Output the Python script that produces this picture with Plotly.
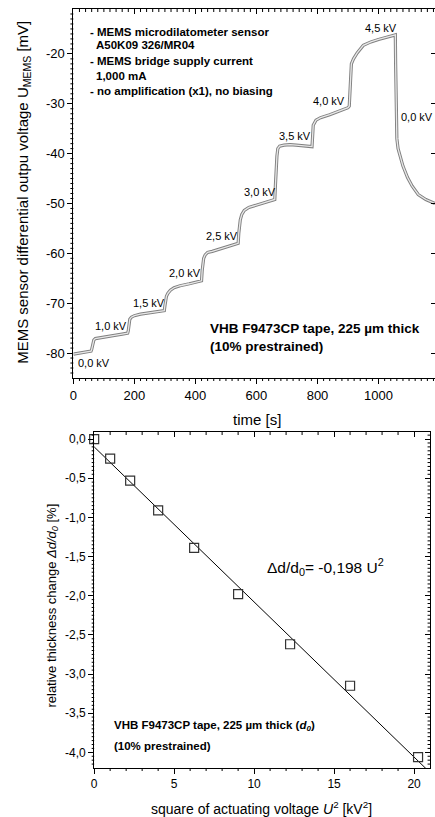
import plotly.graph_objects as go
import numpy as np

W, H = 435, 817
FONT = "Liberation Sans, Arial, sans-serif"


def px(x):
    return x / W


def py(y):
    return 1 - y / H


# ---------------- data: top chart (MEMS signal vs time) ----------------
time_s = [0, 20, 40, 58, 60, 62, 64, 67, 72, 80, 100, 130, 160, 178,
          180, 182, 185, 190, 200, 220, 250, 280, 298,
          300, 302, 305, 310, 318, 330, 350, 380, 410, 420,
          422, 424, 427, 432, 440, 455, 475, 500, 520, 540,
          542, 544, 547, 552, 560, 575, 595, 620, 645, 660,
          662, 664, 667, 670, 676, 690, 710, 730, 750, 770, 782,
          784, 786, 795, 810, 840, 870, 900, 904,
          906, 908, 911, 918, 930, 950, 975, 1000, 1025, 1050, 1055,
          1056, 1057, 1058, 1060, 1064, 1070, 1080, 1095, 1110, 1130, 1155, 1185]
u_mems = [-80.2, -80.0, -79.8, -79.6, -79.3, -78.5, -77.8, -77.4, -77.1, -77.0, -76.8, -76.5, -76.2, -76.0,
          -75.5, -74.0, -73.2, -72.8, -72.5, -72.2, -71.9, -71.7, -71.5,
          -70.5, -69.3, -68.6, -68.0, -67.4, -66.9, -66.5, -66.1, -65.7, -65.5,
          -63.5, -62.0, -61.0, -60.3, -59.8, -59.6, -59.2, -58.7, -58.3, -58.0,
          -56.0, -54.5, -53.3, -52.2, -51.4, -50.8, -50.4, -49.9, -49.5, -49.2,
          -46.5, -43.5, -40.5, -39.0, -38.5, -38.3, -38.2, -38.3, -38.4, -38.5, -38.6,
          -36.5, -34.3, -33.3, -32.8, -32.2, -31.5, -30.8, -30.5,
          -27.5, -24.0, -22.0, -21.0, -19.8, -18.3, -17.6, -17.1, -16.7, -16.3, -16.2,
          -22.0, -28.0, -34.5, -37.0, -39.0, -40.5, -42.5, -44.8, -46.5, -48.2, -49.2, -50.0]

kv_labels = ["0,0 kV", "1,0 kV", "1,5 kV", "2,0 kV", "2,5 kV", "3,0 kV",
             "3,5 kV", "4,0 kV", "4,5 kV", "0,0 kV"]
kv_label_t = [10, 65, 188, 308, 429, 552, 666, 779, 948, 1066]
kv_label_v = [-82.0, -74.6, -70.0, -64.0, -56.5, -47.7, -36.5, -29.4, -14.8, -32.7]

top_xticks = [0, 200, 400, 600, 800, 1000]
top_yticks = [-80, -70, -60, -50, -40, -30, -20]
top_yticktext = ["-80", "-70", "-60", "-50", "-40", "-30", "-20"]

# ---------------- data: bottom chart (thickness change vs U^2) ----------------
u2_kv2 = [0, 1, 2.25, 4, 6.25, 9, 12.25, 16, 20.25]
rel_thickness = [0.0, -0.25, -0.53, -0.91, -1.39, -1.98, -2.62, -3.15, -4.06]
fit_slope = -0.198
fit_intercept = -0.10
fit_u2 = np.array([0.0, 21.5])

bot_xticks = [0, 5, 10, 15, 20]
bot_yticks = [0.0, -0.5, -1.0, -1.5, -2.0, -2.5, -3.0, -3.5, -4.0]
bot_yticktext = ["0,0", "-0,5", "-1,0", "-1,5", "-2,0", "-2,5", "-3,0", "-3,5", "-4,0"]

# minor tick positions
top_xminor = [float(v) for v in np.arange(20, 1185, 20)]
top_yminor = [float(v) for v in np.arange(-84, -11, 1)]
bot_xminor = [float(v) for v in np.arange(1, 21, 1)]
bot_yminor = [round(float(v), 3) for v in np.arange(-4.15, 0.09, 0.05)]

# ---------------- layout geometry (pixels) ----------------
TOP_L, TOP_R, TOP_T, TOP_B = 70, 436, 9, 378
BOT_L, BOT_R, BOT_T, BOT_B = 91, 430, 432, 768

top_xr = [0, 1185]
top_yr = [-85, -11]
bot_xr = [0, 21]
bot_yr = [-4.2, 0.09]

# ---------------- figure ----------------
fig = go.Figure()

fig.add_trace(go.Scatter(x=time_s, y=u_mems, mode="lines",
                         line=dict(color="#808080", width=3.2),
                         xaxis="x", yaxis="y", hoverinfo="skip"))
fig.add_trace(go.Scatter(x=time_s, y=u_mems, mode="lines",
                         line=dict(color="#e8e8e8", width=1.3),
                         xaxis="x", yaxis="y", hoverinfo="skip"))

fit_y = fit_intercept + fit_slope * fit_u2
fig.add_trace(go.Scatter(x=fit_u2, y=fit_y, mode="lines",
                         line=dict(color="black", width=1),
                         xaxis="x2", yaxis="y2"))
fig.add_trace(go.Scatter(x=u2_kv2, y=rel_thickness, mode="markers",
                         marker=dict(symbol="square-open", size=9, color="#333333",
                                     line=dict(width=1.2)),
                         cliponaxis=False, xaxis="x2", yaxis="y2"))

# empty traces so the mirror axes get drawn
fig.add_trace(go.Scatter(x=[], y=[], xaxis="x3", yaxis="y3"))
fig.add_trace(go.Scatter(x=[], y=[], xaxis="x4", yaxis="y4"))

top_xdom = [px(TOP_L), min(1.0, px(TOP_R))]
top_ydom = [py(TOP_B), py(TOP_T)]
bot_xdom = [px(BOT_L), px(BOT_R)]
bot_ydom = [py(BOT_B), py(BOT_T)]

axfont = dict(family=FONT, size=13, color="black")
axfont2 = dict(family=FONT, size=12, color="black")
common = dict(showgrid=False, zeroline=False, linecolor="black", linewidth=1,
              tickcolor="black", tickwidth=1, tickmode="array")

fig.update_layout(
    width=W, height=H, margin=dict(l=0, r=0, t=0, b=0),
    paper_bgcolor="white", plot_bgcolor="white", showlegend=False,
    font=dict(family=FONT, color="black"),
    xaxis=dict(domain=top_xdom, anchor="y", range=top_xr, tickvals=top_xticks,
               ticks="outside", ticklen=5, showline=True, tickfont=axfont, **common),
    yaxis=dict(domain=top_ydom, anchor="x", range=top_yr, tickvals=top_yticks,
               ticktext=top_yticktext, ticks="outside", ticklen=5, showline=True,
               tickfont=axfont, **common),
    xaxis3=dict(overlaying="x", side="top", anchor="y", range=top_xr, tickvals=top_xticks,
                ticks="inside", ticklen=5, showline=True, showticklabels=False, **common),
    yaxis3=dict(overlaying="y", side="right", anchor="x", range=top_yr, tickvals=top_yticks,
                ticks="inside", ticklen=4, showline=False, showticklabels=False, **common),
    xaxis2=dict(domain=bot_xdom, anchor="y2", range=bot_xr, tickvals=bot_xticks,
                ticks="outside", ticklen=5, showline=True, tickfont=axfont2, **common),
    yaxis2=dict(domain=bot_ydom, anchor="x2", range=bot_yr, tickvals=bot_yticks,
                ticktext=bot_yticktext, ticks="outside", ticklen=5, showline=True,
                tickfont=axfont2, **common),
    xaxis4=dict(overlaying="x2", side="top", anchor="y2", range=bot_xr, tickvals=bot_xticks,
                ticks="inside", ticklen=5, showline=True, showticklabels=False, **common),
    yaxis4=dict(overlaying="y2", side="right", anchor="x2", range=bot_yr, tickvals=bot_yticks,
                ticks="inside", ticklen=5, showline=True, showticklabels=False, **common),
)

# ---------------- minor ticks as thin line shapes ----------------
shapes = []
tick_line = dict(color="black", width=1)


def xticks_shapes(vals, xref, y_from, y_to):
    for v in vals:
        shapes.append(dict(type="line", xref=xref, yref="paper", x0=v, x1=v,
                           y0=py(y_from), y1=py(y_to), line=tick_line, layer="above"))


def yticks_shapes(vals, yref, x_from, x_to):
    for v in vals:
        shapes.append(dict(type="line", xref="paper", yref=yref, x0=px(x_from), x1=px(x_to),
                           y0=v, y1=v, line=tick_line, layer="above"))


minor_len = 3
top_xminor_main = [v for v in top_xminor if v not in top_xticks]
top_yminor_main = [v for v in top_yminor if v not in top_yticks]
bot_xminor_main = [v for v in bot_xminor if v not in bot_xticks]
bot_yminor_main = [v for v in bot_yminor if round(v * 2, 6) != round(v * 2)]

xticks_shapes(top_xminor_main, "x", TOP_B, TOP_B + minor_len)      # bottom, outside
xticks_shapes(top_xminor_main, "x", TOP_T, TOP_T + minor_len)      # top, inside
yticks_shapes(top_yminor_main, "y", TOP_L - minor_len, TOP_L)      # left, outside

xticks_shapes(bot_xminor_main, "x2", BOT_B, BOT_B + minor_len)     # bottom, outside
xticks_shapes(bot_xminor_main, "x2", BOT_T, BOT_T + minor_len)     # top, inside
yticks_shapes(bot_yminor_main, "y2", BOT_L - 2.5, BOT_L)           # left, outside
yticks_shapes(bot_yminor_main, "y2", BOT_R - 2.5, BOT_R)           # right, inside

fig.update_layout(shapes=shapes)

ann = []
# axis titles
ann.append(dict(text="MEMS sensor differential outpu voltage U<sub>MEMS</sub> [mV]",
                x=px(20), y=py(192), xref="paper", yref="paper", textangle=-90,
                xanchor="center", yanchor="middle",
                showarrow=False, font=dict(family=FONT, size=15)))
ann.append(dict(text="time [s]", x=px(255), y=py(419), xref="paper", yref="paper",
                xanchor="center", yanchor="middle",
                showarrow=False, font=dict(family=FONT, size=15)))
ann.append(dict(text="relative thickness change <i>Δd/d</i><sub><i>0</i></sub> [%]",
                x=px(48), y=py(606), xref="paper", yref="paper", textangle=-90,
                xanchor="center", yanchor="middle",
                showarrow=False, font=dict(family=FONT, size=13)))
ann.append(dict(text="square of actuating voltage <i>U</i><sup>2</sup> [kV<sup>2</sup>]",
                x=px(260), y=py(808), xref="paper", yref="paper",
                xanchor="center", yanchor="middle",
                showarrow=False, font=dict(family=FONT, size=14)))

# info block top chart
info_lines = [("- MEMS microdilatometer sensor", 85, 32),
              ("A50K09 326/MR04", 91, 45),
              ("- MEMS bridge supply current", 85, 61),
              ("1,000 mA", 91, 76),
              ("- no amplification (x1), no biasing", 85, 91)]
for t, x0, y0 in info_lines:
    ann.append(dict(text="<b>%s</b>" % t, x=px(x0), y=py(y0), xref="paper", yref="paper",
                    xanchor="left", yanchor="middle", showarrow=False,
                    font=dict(family=FONT, size=11.5)))

ann.append(dict(text="<b>VHB F9473CP tape, 225 µm thick</b>", x=px(206), y=py(328),
                xref="paper", yref="paper", xanchor="left", yanchor="middle",
                showarrow=False, font=dict(family=FONT, size=13.5)))
ann.append(dict(text="<b>(10% prestrained)</b>", x=px(206), y=py(346),
                xref="paper", yref="paper", xanchor="left", yanchor="middle",
                showarrow=False, font=dict(family=FONT, size=13.5)))

for lab, t, v in zip(kv_labels, kv_label_t, kv_label_v):
    ann.append(dict(text=lab, x=t, y=v, xref="x", yref="y", xanchor="left",
                    yanchor="middle", showarrow=False, font=dict(family=FONT, size=11)))

# bottom chart texts
ann.append(dict(text="Δd/d<sub>0</sub>= -0,198 U<sup>2</sup>", x=px(263), y=py(567),
                xref="paper", yref="paper", xanchor="left", yanchor="middle",
                showarrow=False, font=dict(family=FONT, size=15.5)))
ann.append(dict(text="<b>VHB F9473CP tape, 225 µm thick (<i>d</i><sub><i>0</i></sub>)</b>",
                x=px(109), y=py(726), xref="paper", yref="paper", xanchor="left",
                yanchor="middle", showarrow=False, font=dict(family=FONT, size=11.5)))
ann.append(dict(text="<b>(10% prestrained)</b>", x=px(109), y=py(746),
                xref="paper", yref="paper", xanchor="left", yanchor="middle",
                showarrow=False, font=dict(family=FONT, size=11.5)))

fig.update_layout(annotations=ann)
fig.write_html("out.html")
